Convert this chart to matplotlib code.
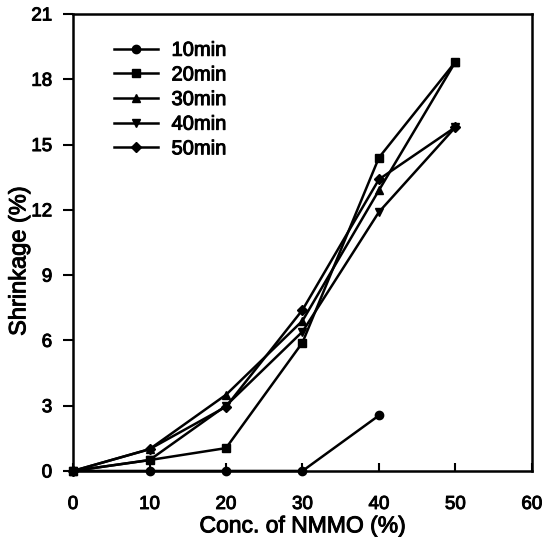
import matplotlib.pyplot as plt
import matplotlib.patheffects as pe

plt.rcParams['font.family'] = ['Liberation Sans', 'DejaVu Sans']

# shrinkage (%) vs NMMO concentration, one series per treatment time
conc = [0, 10, 20, 30, 40, 50]
shrink_10 = [0, 0, 0, 0, 2.55]
shrink_20 = [0, 0.5, 1.05, 5.9, 14.4, 18.8]
shrink_30 = [0, 1.0, 3.5, 6.9, 12.9, 18.8]
shrink_40 = [0, 0.5, 3.0, 6.4, 11.9, 15.8]
shrink_50 = [0, 1.0, 2.95, 7.4, 13.4, 15.8]

series = [
    ('10min', shrink_10, 'o'),
    ('20min', shrink_20, 's'),
    ('30min', shrink_30, '^'),
    ('40min', shrink_40, 'v'),
    ('50min', shrink_50, 'D'),
]

# slightly heavier glyphs, like a printed figure
heavy = [pe.withStroke(linewidth=0.7, foreground='black')]

fig = plt.figure(figsize=(5.45, 5.37), dpi=100)
ax = fig.add_axes([0.134, 0.123, 0.842, 0.851])

for label, vals, mk in series:
    ms = 5 if mk == 'D' else 6
    ax.plot(conc[:len(vals)], vals, color='black', lw=1.8, marker=mk,
            ms=ms, label=label, clip_on=False, zorder=3)

ax.set_xlim(0, 60)
ax.set_ylim(0, 21)
ax.set_xticks(range(0, 61, 10))
ax.set_yticks(range(0, 22, 3))
ax.tick_params(axis='x', direction='in', length=6, width=1.5,
               labelsize=13.5, pad=18)
ax.tick_params(axis='y', direction='out', length=7, width=1.5,
               labelsize=13.5, pad=8)
for sp in ax.spines.values():
    sp.set_linewidth(1.8)

ax.set_xlabel('Conc. of NMMO (%)', fontsize=16.5, labelpad=1)
ax.set_ylabel('Shrinkage (%)', fontsize=17, labelpad=2)
ax.yaxis.set_label_coords(-0.093, 0.46)

leg = ax.legend(loc='upper left', bbox_to_anchor=(0.05, 0.981), frameon=False,
                fontsize=14.5, handlelength=2.2, handletextpad=0.65,
                labelspacing=0.28)

texts = ax.get_xticklabels() + ax.get_yticklabels() + leg.get_texts()
texts += [ax.xaxis.label, ax.yaxis.label]
for t in texts:
    t.set_path_effects(heavy)

fig.savefig('out.png', dpi=100)
